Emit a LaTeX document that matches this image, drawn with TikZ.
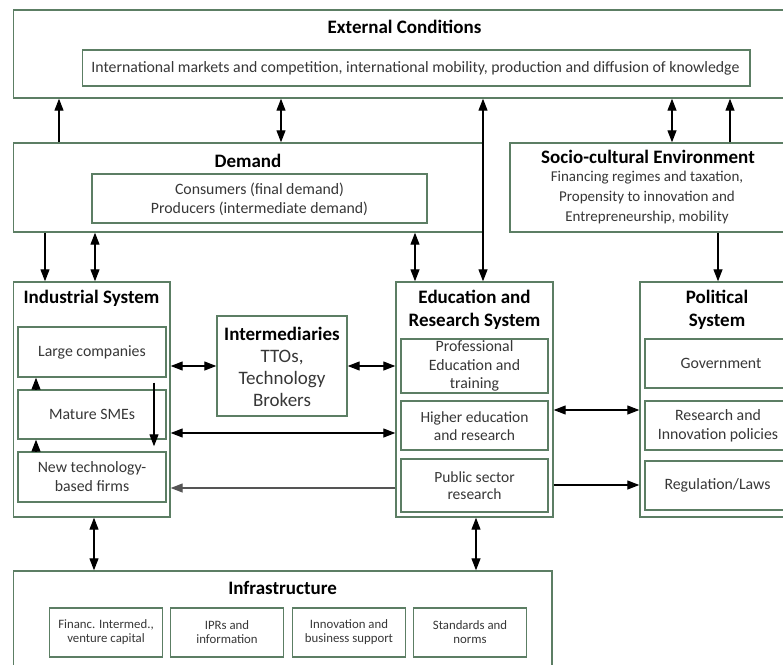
\documentclass[tikz,border=0pt]{standalone}
\usepackage{fontspec}
\setmainfont{Carlito}
\usetikzlibrary{arrows.meta,calc}
\definecolor{boxgreen}{RGB}{92,126,100}
\definecolor{bodytext}{RGB}{55,55,55}
\definecolor{grayline}{RGB}{85,85,85}
\tikzset{
  box/.style={draw=boxgreen, line width=1.4pt, fill=white, inner sep=0pt},
  ttl/.style={font=\bfseries\fontsize{19}{23}\selectfont, text=black, align=center, inner sep=0pt},
  txt/.style={font=\fontsize{15.8}{19}\selectfont, text=bodytext, align=center, inner sep=0pt},
  small/.style={font=\fontsize{12.8}{14.5}\selectfont, text=bodytext, align=center, inner sep=0pt},
  arr/.style={line width=1.2pt, -{Triangle[length=12pt,width=9pt]}},
  darr/.style={line width=1.2pt, {Triangle[length=12pt,width=9pt]}-{Triangle[length=12pt,width=9pt]}}
}
\begin{document}
\begin{tikzpicture}[x=1pt,y=-1pt]
\useasboundingbox (0,0) rectangle (783,664);
\clip (0,0) rectangle (783,664);
\fill[white] (0,0) rectangle (783,664);

% External conditions
\node[box, minimum width=786.5pt, minimum height=88pt] (ext) at (406.75,54) {};
\node[ttl] (exttitle) at (404.5,27) {External Conditions};
\node[box, minimum width=667.5pt, minimum height=36pt] (extin) at (416.25,68) {};
\node[txt] (exttext) at (415.5,68) {International markets and competition, international mobility, production and diffusion of knowledge};

% Demand
\node[box, minimum width=469.5pt, minimum height=89pt] (dem) at (248.25,187.5) {};
\node[ttl] (demtitle) at (248,161) {Demand};
\node[box, minimum width=335pt, minimum height=49pt] (demin) at (259.5,198.5) {};
\node[txt] (demtext) at (259.5,199) {Consumers (final demand)\\Producers (intermediate demand)};

% Socio-cultural
\node[box, minimum width=280pt, minimum height=89pt] (soc) at (650,187.5) {};
\node[ttl] (soctitle) at (648,157) {Socio-cultural Environment};
\node[txt, font=\fontsize{15}{20}\selectfont] (soctext) at (647,197.5) {Financing regimes and taxation,\\Propensity to innovation and\\Entrepreneurship, mobility};

% Industrial system
\node[box, minimum width=156.5pt, minimum height=235pt] (ind) at (91.75,399.5) {};
\node[ttl] (indtitle) at (91.5,298) {Industrial System};
\node[box, minimum width=148pt, minimum height=50pt] (large) at (92,352) {};
\node[txt] (largetext) at (92,352) {Large companies};
\node[box, minimum width=148pt, minimum height=49pt] (mature) at (92,414.5) {};
\node[txt] (maturetext) at (92,414.5) {Mature SMEs};
\node[box, minimum width=148pt, minimum height=50pt] (newf) at (92,477) {};
\node[txt] (newtext) at (92,477) {New technology-\\based firms};

% Intermediaries
\node[box, minimum width=130pt, minimum height=100pt] (inter) at (282,366) {};
\node[txt, font=\fontsize{19}{22}\selectfont] (intertext) at (282,367) {{\bfseries\color{black}Intermediaries}\\TTOs,\\Technology\\Brokers};

% Education and research
\node[box, minimum width=157pt, minimum height=235pt] (edu) at (474.5,399.5) {};
\node[ttl] (edutitle) at (474.5,309.5) {Education and\\Research System};
\node[box, minimum width=147pt, minimum height=54pt] (prof) at (474.5,366) {};
\node[txt, font=\fontsize{15.8}{18.5}\selectfont] (proftext) at (474.5,366) {Professional\\Education and\\training};
\node[box, minimum width=147pt, minimum height=49pt] (higher) at (474.5,425.5) {};
\node[txt, font=\fontsize{15.5}{17.5}\selectfont] (highertext) at (474.5,426) {Higher education\\and research};
\node[box, minimum width=147pt, minimum height=53pt] (public) at (474.5,485.5) {};
\node[txt, font=\fontsize{15.5}{17}\selectfont] (publictext) at (474.5,485.5) {Public sector\\research};

% Political system
\node[box, minimum width=156pt, minimum height=235pt] (pol) at (718,399.5) {};
\node[ttl] (poltitle) at (717,309.5) {Political\\System};
\node[box, minimum width=146pt, minimum height=49pt] (gov) at (718,363.5) {};
\node[txt] (govtext) at (721,363.5) {Government};
\node[box, minimum width=146pt, minimum height=49pt] (rip) at (718,425.5) {};
\node[txt] (riptext) at (718,426) {Research and\\Innovation policies};
\node[box, minimum width=146pt, minimum height=49pt] (reg) at (718,485.5) {};
\node[txt] (regtext) at (717.5,485.5) {Regulation/Laws};

% Infrastructure
\node[box, minimum width=538.5pt, minimum height=119pt] (infra) at (282.75,630.5) {};
\node[ttl] (infratitle) at (282.6,588) {Infrastructure};
\node[box, minimum width=113pt, minimum height=49pt] (i1) at (106,632.5) {};
\node[small] (i1t) at (106,632) {Financ. Intermed.,\\venture capital};
\node[box, minimum width=113pt, minimum height=49pt] (i2) at (227,632.5) {};
\node[small] (i2t) at (227,632) {IPRs and\\information};
\node[box, minimum width=113pt, minimum height=49pt] (i3) at (349,632.5) {};
\node[small] (i3t) at (349,632) {Innovation and\\business support};
\node[box, minimum width=113pt, minimum height=49pt] (i4) at (470,632.5) {};
\node[small] (i4t) at (470,632) {Standards and\\norms};

% column / row helper coordinates
\coordinate (x59) at (59,0);
\coordinate (x281) at (281,0);
\coordinate (x483) at (483,0);
\coordinate (x672) at (672,0);
\coordinate (x730) at (730,0);
\coordinate (x45) at (45,0);
\coordinate (x95) at (95,0);
\coordinate (x415) at (415,0);
\coordinate (x718) at (718,0);
\coordinate (x36) at (36,0);
\coordinate (x154) at (154,0);
\coordinate (x94) at (94,0);
\coordinate (x476) at (476,0);
\coordinate (y366) at (0,366);
\coordinate (y433) at (0,433);
\coordinate (y488) at (0,488);
\coordinate (y410) at (0,410);
\coordinate (y485) at (0,485);

% External <-> second row
\draw[arr] (dem.north -| x59) -- (ext.south -| x59);
\draw[darr] (dem.north -| x281) -- (ext.south -| x281);
\draw[darr] (edu.north -| x483) -- (ext.south -| x483);
\draw[darr] (soc.north -| x672) -- (ext.south -| x672);
\draw[arr] (soc.north -| x730) -- (ext.south -| x730);

% second row -> third row
\draw[arr] (dem.south -| x45) -- (ind.north -| x45);
\draw[darr] (dem.south -| x95) -- (ind.north -| x95);
\draw[darr] (dem.south -| x415) -- (edu.north -| x415);
\draw[arr] (soc.south -| x718) -- (pol.north -| x718);

% inside industrial system
\draw[arr] (mature.north -| x36) -- (large.south -| x36);
\draw[arr] (newf.north -| x36) -- (mature.south -| x36);
\draw[arr, shorten <=5pt, shorten >=5pt] (large.south -| x154) -- (newf.north -| x154);

% horizontal links
\draw[darr] (ind.east |- y366) -- (inter.west |- y366);
\draw[darr] (inter.east |- y366) -- (edu.west |- y366);
\draw[darr] (ind.east |- y433) -- (edu.west |- y433);
\draw[arr, draw=grayline] (edu.west |- y488) -- (ind.east |- y488);
\draw[darr] (edu.east |- y410) -- (pol.west |- y410);
\draw[arr] (edu.east |- y485) -- (pol.west |- y485);

% to infrastructure
\draw[darr] (ind.south -| x94) -- (infra.north -| x94);
\draw[darr] (edu.south -| x476) -- (infra.north -| x476);
\end{tikzpicture}
\end{document}
